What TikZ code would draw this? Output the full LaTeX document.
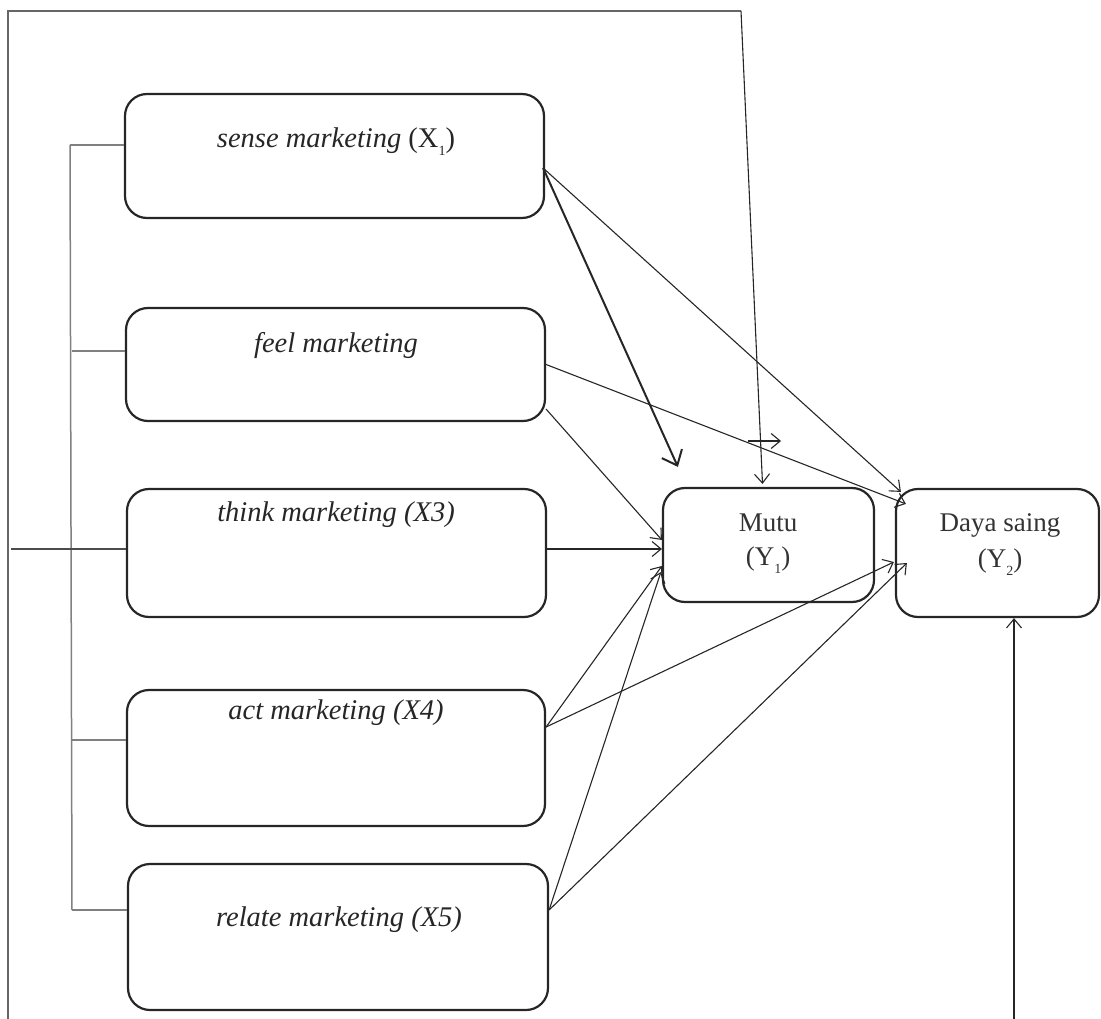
\documentclass[tikz,border=0pt]{standalone}
\usepackage{fontspec}
\setmainfont{Liberation Serif}
\usetikzlibrary{arrows.meta,calc}
% small, slightly lowered subscript for the variable labels
\newcommand{\vsub}[1]{\raisebox{-0.28em}{\fontsize{14}{16}\selectfont #1}}
\begin{document}
\begin{tikzpicture}[x=1pt,y=-1pt,
  varbox/.style={draw=black!85, line width=2.2pt, rounded corners=22pt, inner sep=0pt},
  lbl/.style={font=\fontsize{27}{31}\selectfont, text=black!80, inner sep=0pt},
  ilbl/.style={font=\fontsize{28.5}{32}\selectfont\itshape, text=black!85, inner sep=0pt},
  link/.style={draw=black!85, line width=1.1pt, -{Straight Barb[length=9pt,width=15pt,line width=1.1pt]}},
  boldlink/.style={draw=black!85, line width=2pt, -{Straight Barb[length=13pt,width=22pt,line width=2pt]}},
  tie/.style={draw=black!50, line width=1.5pt},
  frame/.style={draw=black!60, line width=1.2pt},
]
\useasboundingbox (0,0) rectangle (1101,1019);

% experiential marketing dimensions
\node[varbox, minimum width=419pt, minimum height=124pt] (sense)  at (334.5,156) {};
\node[varbox, minimum width=419pt, minimum height=113pt] (feel)   at (335.5,364.5) {};
\node[varbox, minimum width=419pt, minimum height=128pt] (think)  at (336.5,553) {};
\node[varbox, minimum width=418pt, minimum height=136pt] (act)    at (336,758) {};
\node[varbox, minimum width=420pt, minimum height=146pt] (relate) at (338,937) {};
% outcome variables
\node[varbox, minimum width=211pt, minimum height=114pt] (mutu) at (768.5,545) {};
\node[varbox, minimum width=203pt, minimum height=128pt] (daya) at (997.5,553) {};

% labels
\node[ilbl] (tsense)  at (336,142) {sense marketing \upshape(X\vsub{1})};
\node[ilbl] (tfeel)   at (336,345) {feel marketing};
\node[ilbl] (tthink)  at (336,515) {think marketing (X3)};
\node[ilbl] (tact)    at (336,713) {act marketing (X4)};
\node[ilbl] (trelate) at (339,920) {relate marketing (X5)};
\node[lbl] (tmutu)   at (768,523) {Mutu};
\node[lbl] (ty1)     at (768,560) {(Y\vsub{1})};
\node[lbl] (tdaya)   at (1000,525) {Daya saing};
\node[lbl] (ty2)     at (1000,562) {(Y\vsub{2})};

% bracket joining the five dimensions
\coordinate (b1) at (70,145);
\coordinate (b2) at (72,351);
\coordinate (b3) at (72,549);
\coordinate (b4) at (72,740);
\coordinate (b5) at (72,910);
\draw[tie] (b1) -- (b5);
\draw[tie] (b1) -- (sense.west |- b1);
\draw[tie] (b2) -- (feel.west |- b2);
\draw[tie] (b4) -- (act.west |- b4);
\draw[tie] (b5) -- (relate.west |- b5);
\coordinate (lin) at (11,549);
\draw[draw=black!70, line width=1.2pt] (lin) -- (think.west |- lin);

% outer frame feeding into Mutu
\coordinate (lbot) at (8,1019);
\coordinate (ltop) at (8,11);
\coordinate (rtop) at (741,11);
\coordinate (mtop) at ($(mutu.north)+(-6,-3)$);
\draw[frame] (lbot) -- (ltop) -- (rtop);
\draw[link] (rtop) -- (mtop);

% bottom input into Daya saing
\coordinate (rbot) at (1014,1019);
\draw[link] (rbot) -- (daya.south -| rbot);

% paths from the dimensions
\coordinate (s0) at ($(sense.east)+(-2,12)$);
\coordinate (sm) at ($(mutu.north west)+(16,-20)$);
\draw[boldlink] (s0) -- (sm);
\draw[link] (s0) -- ($(daya.north west)+(6,4)$);

\draw[link] (feel.east) -- ($(daya.north west)+(11,16)$);
\draw[link] ($(feel.south east)+(0,-13)$) -- ($(mutu.west)+(0,-5)$);

\coordinate (tm) at ($(mutu.west)+(0,4)$);
\draw[link, line width=1.8pt] (think.east |- tm) -- (tm);

\coordinate (a0) at ($(act.east)+(0,-31)$);
\draw[link] (a0) -- ($(mutu.west)+(0,21)$);
\draw[link] (a0) -- ($(daya.west)+(-1,9)$);

\coordinate (r0) at ($(relate.east)+(0,-27)$);
\draw[link] (r0) -- ($(mutu.west)+(-1,27)$);
\draw[link] (r0) -- ($(daya.west)+(12,10)$);

% short stray arrow above Mutu
\coordinate (sa) at (748,441);
\coordinate (sb) at (781,441);
\draw[link] (sa) -- (sb);

\end{tikzpicture}
\end{document}
